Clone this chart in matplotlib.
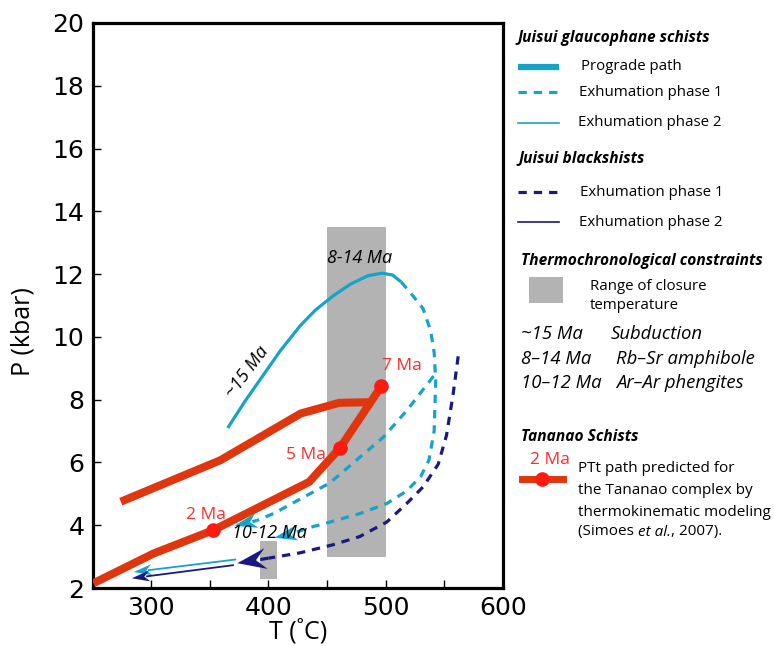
import math
import matplotlib
matplotlib.use("Agg")
import matplotlib.pyplot as plt
from matplotlib.lines import Line2D
from matplotlib.patches import Rectangle, Polygon

plt.rcParams['font.family'] = ['Open Sans', 'DejaVu Sans']
plt.rcParams['lines.scale_dashes'] = False

# ---------------- data ----------------
# Tananao PTt path (thermokinematic model)
tananao_T = [250.5, 302, 352.8, 434.8, 461.3, 496.2]
tananao_P = [2.15, 3.1, 3.84, 5.38, 6.47, 8.42]
tananao2_T = [274, 359, 427.6, 460.5, 487]
tananao2_P = [4.75, 6.07, 7.56, 7.9, 7.92]
dot_T = [352.8, 461.3, 496.2]
dot_P = [3.84, 6.47, 8.42]
dot_labels = ["2 Ma", "5 Ma", "7 Ma"]
dot_label_T = [347, 432, 514]
dot_label_P = [4.32, 6.23, 9.06]

# Juisui glaucophane schists
prograde_T = [365.3, 380, 395, 410, 427, 440, 455, 470, 485, 497, 506, 513.3]
prograde_P = [7.1, 7.95, 8.75, 9.55, 10.35, 10.85, 11.3, 11.68, 11.95, 12.03, 11.97, 11.75]
exh1_outer_T = [513.3, 521, 532, 538.5, 541.5, 542.8, 541.5, 537, 530, 518, 501, 478, 455.4, 432.7, 420]
exh1_outer_P = [11.75, 11.42, 10.9, 10.2, 9.5, 8.6, 7.0, 6.07, 5.55, 5.09, 4.69, 4.37, 4.13, 3.9, 3.72]
exh1_outer_tip = (405, 3.6)
exh1_inner_T = [541, 518, 498, 475, 452.6, 427, 404.3, 390]
exh1_inner_P = [8.75, 7.65, 6.8, 6.07, 5.35, 4.83, 4.37, 4.15]
exh1_inner_tip = (371, 3.98)
exh2_glauc_T = [372.5, 285]
exh2_glauc_P = [2.91, 2.51]

# Juisui blackschists
black1_T = [562, 557.7, 552, 544.9, 532, 518, 501, 478, 455.4, 427, 400]
black1_P = [9.38, 8.18, 6.86, 5.94, 5.22, 4.69, 4.1, 3.64, 3.38, 3.12, 2.95]
black1_tip = (373.5, 2.79)
black2_T = [370.5, 283.4]
black2_P = [2.73, 2.31]

# Thermochronological constraints (T range, P range)
box_big = (450, 500, 3.0, 13.5)
box_small = (393, 407, 2.3, 3.5)

x_ticks = [300, 400, 500, 600]
y_ticks = [2, 4, 6, 8, 10, 12, 14, 16, 18, 20]

# ---------------- colours ----------------
cyan = "#16A3CA"
navy = "#1B1880"
red_line = "#E0360E"
red_dot = "#FF1A10"
red_text = "#FF2A2A"
grey = "#B3B3B3"

W, H = 774, 646
fig = plt.figure(figsize=(W / 100, H / 100), dpi=100)
ax = fig.add_axes([92.7 / W, 1 - 588 / H, (502.7 - 92.7) / W, (588 - 23) / H])
ax.set_xlim(250, 600)
ax.set_ylim(2, 20)

# boxes
for (t0, t1, p0, p1) in [box_big, box_small]:
    ax.add_patch(Rectangle((t0, p0), t1 - t0, p1 - p0, facecolor=grey, edgecolor='none', zorder=1))


def notched_head(tip, tail, color, length, width, notch=0.3, shaft_lw=None):
    """Arrow head (with notched back) in pixel sizes, pointing from tail to tip."""
    td = ax.transData
    p_tip = td.transform(tip)
    p_tail = td.transform(tail)
    dx, dy = p_tip[0] - p_tail[0], p_tip[1] - p_tail[1]
    n = math.hypot(dx, dy)
    ux, uy = dx / n, dy / n
    px, py = -uy, ux
    bx, by = p_tip[0] - ux * length, p_tip[1] - uy * length
    pts = [
        (p_tip[0], p_tip[1]),
        (bx + px * width / 2, by + py * width / 2),
        (p_tip[0] - ux * length * (1 - notch), p_tip[1] - uy * length * (1 - notch)),
        (bx - px * width / 2, by - py * width / 2),
    ]
    inv = td.inverted()
    dpts = [inv.transform(p) for p in pts]
    ax.add_patch(Polygon(dpts, closed=True, facecolor=color, edgecolor='none', zorder=4))
    if shaft_lw:
        end = inv.transform((p_tip[0] - ux * length * 0.8, p_tip[1] - uy * length * 0.8))
        ax.plot([tail[0], end[0]], [tail[1], end[1]], color=color, lw=shaft_lw,
                solid_capstyle='butt', zorder=4)


# glaucophane schist paths
ax.plot(prograde_T, prograde_P, color=cyan, lw=2.3, solid_capstyle='butt', zorder=3)
ax.plot(exh1_outer_T, exh1_outer_P, color=cyan, lw=2.3, dashes=(6, 5), zorder=3)
ax.plot(exh1_inner_T, exh1_inner_P, color=cyan, lw=2.3, dashes=(6, 5), zorder=3)
notched_head(exh1_outer_tip, (exh1_outer_T[-1], exh1_outer_P[-1]), cyan, 23, 15, shaft_lw=2.3)
notched_head(exh1_inner_tip, (exh1_inner_T[-1], exh1_inner_P[-1]), cyan, 23, 15, shaft_lw=2.3)

# blackschist path
ax.plot(black1_T, black1_P, color=navy, lw=2.3, dashes=(6, 5), zorder=3)
notched_head(black1_tip, (black1_T[-1], black1_P[-1]), navy, 29, 21, notch=0.35, shaft_lw=2.3)

# phase 2 thin arrows
notched_head((exh2_glauc_T[1], exh2_glauc_P[1]), (exh2_glauc_T[0], exh2_glauc_P[0]), cyan, 18, 11,
             shaft_lw=1.3)
notched_head((black2_T[1], black2_P[1]), (black2_T[0], black2_P[0]), navy, 18, 11, shaft_lw=1.3)

# Tananao paths
ax.plot(tananao_T, tananao_P, color=red_line, lw=5.8, solid_joinstyle='miter', solid_capstyle='butt', zorder=5)
ax.plot(tananao2_T, tananao2_P, color=red_line, lw=5.8, solid_joinstyle='miter', solid_capstyle='butt', zorder=5)
ax.plot(dot_T, dot_P, 'o', color=red_dot, ms=10.5, mec='none', zorder=6)
for lab, tx, py in zip(dot_labels, dot_label_T, dot_label_P):
    ax.text(tx, py, lab, color=red_text, fontsize=12.5, ha='center', va='center', zorder=7)

# annotations
ax.text(478, 12.5, "8-14 Ma", style='italic', fontsize=13, ha='center', va='center', zorder=7)
ax.text(401, 3.74, "10-12 Ma", style='italic', fontsize=13, ha='center', va='center', zorder=7)
ax.text(382, 8.88, "~15 Ma", style='italic', fontsize=13, ha='center', va='center', rotation=53, zorder=7)

# axes styling
ax.set_xticks(x_ticks)
ax.set_xticks([350, 450, 550], minor=True)
ax.set_yticks(y_ticks)
ax.tick_params(axis='both', which='both', direction='in', length=6, width=1, labelsize=18, pad=6)
for lab in ax.get_xticklabels() + ax.get_yticklabels():
    lab.set_family('DejaVu Sans')
for s in ax.spines.values():
    s.set_linewidth(2.3)

fig.text(297.7 / W, 1 - 632 / H, "T (˚C)", fontsize=18, ha='center', va='center')
fig.text(23 / W, 1 - 332 / H, "P (kbar)", fontsize=18, ha='center', va='center', rotation=90)

# ---------------- legend ----------------
def ftext(x, y, s, **kw):
    return fig.text(x / W, 1 - y / H, s, va='center', ha='left', **kw)

def fline(x0, x1, y, **kw):
    fig.add_artist(Line2D([x0 / W, x1 / W], [1 - y / H, 1 - y / H], transform=fig.transFigure, **kw))

hfs = 11.2
ifs = 10.8
ftext(517, 38, "Juisui glaucophane schists", fontsize=hfs, fontweight='bold', style='italic')
fline(518, 559, 67, color=cyan, lw=4.5, solid_capstyle='butt')
ftext(581, 67, "Prograde path", fontsize=ifs)
fline(518, 559, 92, color=cyan, lw=2.3, dashes=(6, 5))
ftext(579, 92, "Exhumation phase 1", fontsize=ifs)
fline(518, 559, 123, color=cyan, lw=1.2)
ftext(578, 123, "Exhumation phase 2", fontsize=ifs)

ftext(518, 158, "Juisui blackshists", fontsize=hfs, fontweight='bold', style='italic')
fline(518, 559, 192, color=navy, lw=2.3, dashes=(6, 5))
ftext(580, 192, "Exhumation phase 1", fontsize=ifs)
fline(518, 559, 222, color=navy, lw=1.2)
ftext(579, 222, "Exhumation phase 2", fontsize=ifs)

ftext(521, 261, "Thermochronological constraints", fontsize=hfs, fontweight='bold', style='italic')
fig.add_artist(Rectangle((529 / W, 1 - 303 / H), 34 / W, 26 / H, transform=fig.transFigure,
                         facecolor=grey, edgecolor='none'))
ftext(590, 286, "Range of closure", fontsize=ifs)
ftext(590, 306, "temperature", fontsize=ifs)

tfs = 13.3
ftext(521, 334, "~15 Ma", fontsize=tfs, style='italic')
ftext(611, 334, "Subduction", fontsize=tfs, style='italic')
ftext(521, 359, "8–14 Ma", fontsize=tfs, style='italic')
ftext(616, 359, "Rb–Sr amphibole", fontsize=tfs, style='italic')
ftext(521, 383, "10–12 Ma", fontsize=tfs, style='italic')
ftext(616, 383, "Ar–Ar phengites", fontsize=tfs, style='italic')

ftext(521, 437, "Tananao Schists", fontsize=hfs, fontweight='bold', style='italic')
ftext(530, 460, "2 Ma", fontsize=12.5, color=red_text)
fline(522, 563, 479, color=red_line, lw=5)
fig.add_artist(Line2D([542 / W], [1 - 479 / H], transform=fig.transFigure, marker='o',
                      color=red_dot, ms=10.5, mec='none'))
ftext(578, 469, "PTt path predicted for", fontsize=11)
ftext(578, 491, "the Tananao complex by", fontsize=11)
ftext(578, 512, "thermokinematic modeling", fontsize=11)

renderer = fig.canvas.get_renderer()
x = 578
for piece, st in [("(Simoes\u00a0", 'normal'), ("et al.", 'italic'), (", 2007).", 'normal')]:
    t = ftext(x, 532, piece, fontsize=11, style=st)
    bb = t.get_window_extent(renderer)
    x += bb.width

fig.savefig("out.png", dpi=100)
